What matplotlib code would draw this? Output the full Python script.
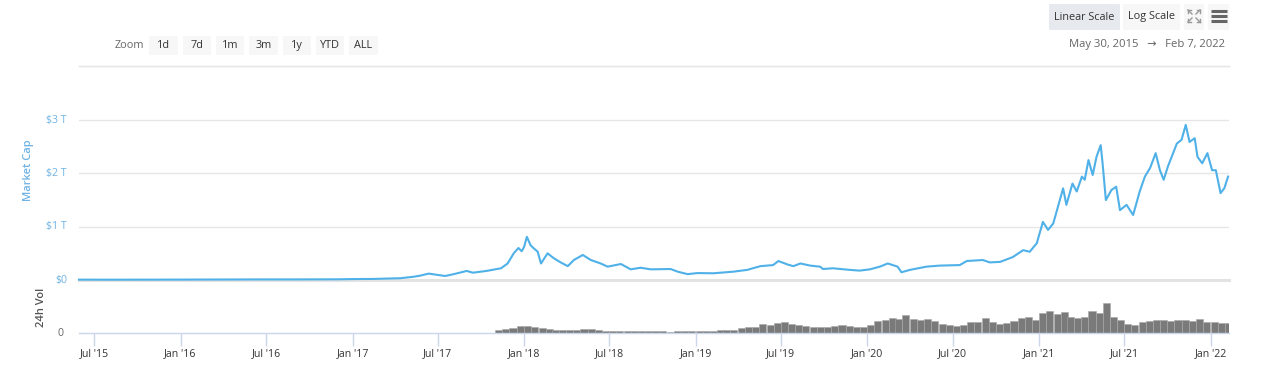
import matplotlib
matplotlib.use("Agg")
import matplotlib.pyplot as plt
import matplotlib.transforms as mtransforms
import pandas as pd
from matplotlib.patches import FancyBboxPatch
from matplotlib.lines import Line2D

# ---------------- data ----------------
cap_dates = [
    "2015-05-30", "2015-08-01", "2015-11-01", "2016-01-01", "2016-03-01", "2016-06-15",
    "2016-09-01", "2016-12-01", "2017-01-05", "2017-02-15", "2017-03-15", "2017-04-12",
    "2017-05-10", "2017-05-24", "2017-06-12", "2017-07-17", "2017-08-03", "2017-09-01",
    "2017-09-14", "2017-10-13", "2017-11-13", "2017-11-27", "2017-12-10", "2017-12-20",
    "2017-12-27", "2018-01-01", "2018-01-07", "2018-01-15", "2018-01-21", "2018-01-30",
    "2018-02-06", "2018-02-20", "2018-03-05", "2018-03-20", "2018-04-04", "2018-04-17",
    "2018-05-06", "2018-05-23", "2018-06-13", "2018-06-28", "2018-07-26", "2018-08-16",
    "2018-09-06", "2018-09-28", "2018-11-09", "2018-11-24", "2018-12-15", "2019-01-05",
    "2019-02-08", "2019-03-22", "2019-04-21", "2019-05-19", "2019-06-15", "2019-06-26",
    "2019-07-16", "2019-07-28", "2019-08-12", "2019-09-02", "2019-09-23", "2019-09-29",
    "2019-10-20", "2019-11-25", "2019-12-16", "2020-01-07", "2020-01-28", "2020-02-14",
    "2020-03-06", "2020-03-14", "2020-04-01", "2020-05-06", "2020-06-03", "2020-07-16",
    "2020-07-31", "2020-09-03", "2020-09-18", "2020-10-10", "2020-11-06", "2020-11-28",
    "2020-12-12", "2020-12-27", "2021-01-09", "2021-01-20", "2021-01-31", "2021-02-15",
    "2021-02-21", "2021-02-28", "2021-03-13", "2021-03-22", "2021-04-02", "2021-04-08",
    "2021-04-16", "2021-04-25", "2021-05-03", "2021-05-12", "2021-05-16", "2021-05-23",
    "2021-06-04", "2021-06-14", "2021-06-22", "2021-07-06", "2021-07-20", "2021-08-03",
    "2021-08-14", "2021-08-25", "2021-09-06", "2021-09-15", "2021-09-23", "2021-10-02",
    "2021-10-10", "2021-10-21", "2021-10-31", "2021-11-09", "2021-11-17", "2021-11-28",
    "2021-12-04", "2021-12-14", "2021-12-25", "2022-01-04", "2022-01-12", "2022-01-22",
    "2022-01-30", "2022-02-07",
]
cap_values_t = [
    0.0065, 0.0055, 0.0065, 0.0075, 0.0085, 0.011,
    0.011, 0.013, 0.018, 0.020, 0.027, 0.033,
    0.060, 0.080, 0.120, 0.075, 0.107, 0.170,
    0.137, 0.170, 0.220, 0.310, 0.500, 0.600,
    0.540, 0.620, 0.810, 0.650, 0.600, 0.530,
    0.310, 0.500, 0.410, 0.330, 0.260, 0.375,
    0.470, 0.375, 0.310, 0.250, 0.300, 0.200,
    0.230, 0.200, 0.206, 0.156, 0.110, 0.130,
    0.126, 0.156, 0.190, 0.260, 0.280, 0.356,
    0.290, 0.260, 0.310, 0.270, 0.250, 0.206,
    0.220, 0.190, 0.176, 0.200, 0.250, 0.310,
    0.250, 0.145, 0.190, 0.250, 0.270, 0.280,
    0.356, 0.375, 0.330, 0.340, 0.430, 0.560,
    0.530, 0.690, 1.090, 0.940, 1.060, 1.530,
    1.720, 1.410, 1.810, 1.660, 1.940, 1.880,
    2.250, 1.970, 2.310, 2.530, 2.190, 1.500,
    1.690, 1.750, 1.310, 1.410, 1.220, 1.660,
    1.940, 2.100, 2.380, 2.060, 1.880, 2.130,
    2.310, 2.560, 2.630, 2.910, 2.590, 2.660,
    2.310, 2.190, 2.380, 2.060, 2.060, 1.630,
    1.720, 1.940,
]

vol_dates = [
    "2017-11-01", "2017-11-16", "2017-12-01", "2017-12-16",
    "2018-01-01", "2018-01-16", "2018-02-01", "2018-02-16", "2018-03-01", "2018-03-16",
    "2018-04-01", "2018-04-16", "2018-05-01", "2018-05-16", "2018-06-01", "2018-06-16",
    "2018-07-01", "2018-07-16", "2018-08-01", "2018-08-16", "2018-09-01", "2018-09-16",
    "2018-10-01", "2018-10-16", "2018-11-01", "2018-11-16", "2018-12-01", "2018-12-16",
    "2019-01-01", "2019-01-16", "2019-02-01", "2019-02-16", "2019-03-01", "2019-03-16",
    "2019-04-01", "2019-04-16", "2019-05-01", "2019-05-16", "2019-06-01", "2019-06-16",
    "2019-07-01", "2019-07-16", "2019-08-01", "2019-08-16", "2019-09-01", "2019-09-16",
    "2019-10-01", "2019-10-16", "2019-11-01", "2019-11-16", "2019-12-01", "2019-12-16",
    "2020-01-01", "2020-01-16", "2020-02-01", "2020-02-16", "2020-03-01", "2020-03-16",
    "2020-04-01", "2020-04-16", "2020-05-01", "2020-05-16", "2020-06-01", "2020-06-16",
    "2020-07-01", "2020-07-16", "2020-08-01", "2020-08-16", "2020-09-01", "2020-09-16",
    "2020-10-01", "2020-10-16", "2020-11-01", "2020-11-16", "2020-12-01", "2020-12-16",
    "2021-01-01", "2021-01-16", "2021-02-01", "2021-02-16", "2021-03-01", "2021-03-16",
    "2021-04-01", "2021-04-16", "2021-05-01", "2021-05-16", "2021-06-01", "2021-06-16",
    "2021-07-01", "2021-07-16", "2021-08-01", "2021-08-16", "2021-09-01", "2021-09-16",
    "2021-10-01", "2021-10-16", "2021-11-01", "2021-11-16", "2021-12-01", "2021-12-16",
    "2022-01-01", "2022-01-16", "2022-02-01",
]
vol_values_b = [
    30, 40, 50, 70,
    70, 60, 50, 40, 30, 30,
    30, 30, 40, 40, 30, 20,
    20, 20, 20, 20, 20, 20,
    20, 20, 10, 20, 20, 20,
    20, 20, 20, 30, 30, 30,
    50, 60, 60, 90, 80, 100,
    110, 90, 80, 70, 60, 60,
    60, 70, 80, 70, 60, 60,
    80, 120, 130, 150, 140, 180,
    140, 130, 140, 120, 90, 80,
    70, 80, 110, 110, 150, 110,
    90, 100, 120, 150, 160, 130,
    200, 220, 190, 210, 160, 150,
    160, 220, 200, 300, 160, 130,
    90, 80, 110, 120, 130, 130,
    120, 130, 130, 120, 140, 110,
    110, 100, 100,
]

tick_dates = ["2015-07-01", "2016-01-01", "2016-07-01", "2017-01-01", "2017-07-01",
              "2018-01-01", "2018-07-01", "2019-01-01", "2019-07-01", "2020-01-01",
              "2020-07-01", "2021-01-01", "2021-07-01", "2022-01-01"]
tick_labels = ["Jul '15", "Jan '16", "Jul '16", "Jan '17", "Jul '17", "Jan '18", "Jul '18",
               "Jan '19", "Jul '19", "Jan '20", "Jul '20", "Jan '21", "Jul '21", "Jan '22"]
ytick_values = [0, 1, 2, 3]
ytick_labels = ["$0", "$1 T", "$2 T", "$3 T"]
zoom_buttons = ["1d", "7d", "1m", "3m", "1y", "YTD", "ALL"]
range_text = "May 30, 2015   \u2192   Feb 7, 2022"

# ---------------- figure ----------------
W, H = 1271, 371
fig = plt.figure(figsize=(W / 100, H / 100), dpi=100)
plt.rcParams['font.family'] = ['Open Sans', 'DejaVu Sans']

def fx(px):
    return px / W

def fy(py):
    return 1 - py / H

LINE = "#4fb1e8"
LABEL_BLUE = "#6fb3e4"
GRID = "#e6e6e6"
AXIS = "#ccd6eb"

x0, x1 = 79, 1229
ax = fig.add_axes([fx(x0), fy(280), fx(x1) - fx(x0), fy(66) - fy(280)])
axv = fig.add_axes([fx(x0), fy(333), fx(x1) - fx(x0), fy(282) - fy(333)], sharex=ax)

cd = pd.to_datetime(cap_dates)
vd = pd.to_datetime(vol_dates)
xmin, xmax = pd.Timestamp("2015-05-30"), pd.Timestamp("2022-02-09")

# main pane
ymax = (280 - 66) / 53.3
ax.set_ylim(0, ymax)
ax.set_xlim(xmin, xmax)
for v in ytick_values[1:]:
    ax.axhline(v, color=GRID, lw=1, zorder=0)
ax.axhline(ymax, color=GRID, lw=1, zorder=0, clip_on=False)
ax.axhline(0, color="#e3e3e3", lw=2.2, zorder=0, clip_on=False)
ax.plot(cd, cap_values_t, color=LINE, lw=1.5, clip_on=False, zorder=3)
for s in ax.spines.values():
    s.set_visible(False)
ax.set_yticks([])
ax.tick_params(axis='x', which='both', bottom=False, labelbottom=False)
ax.set_facecolor("none")

ytr = mtransforms.blended_transform_factory(fig.transFigure, ax.transData)
for v, lab in zip(ytick_values, ytick_labels):
    ax.text(fx(67), v, lab, transform=ytr, ha='right', va='center', fontsize=7.6,
            color=LABEL_BLUE)
fig.text(fx(29), fy(170), "Market Cap", rotation=90, ha='center', va='center',
         fontsize=8, color=LABEL_BLUE, fontweight='semibold')

# volume pane
axv.bar(vd, vol_values_b, width=15, color="#7a7a7a", edgecolor="#a8a8a8", lw=0.4,
        align='edge')
axv.set_ylim(0, 510)
for s in ["top", "left", "right"]:
    axv.spines[s].set_visible(False)
axv.spines["bottom"].set_color(AXIS)
axv.spines["bottom"].set_linewidth(1)
axv.set_yticks([])
axv.set_xticks(pd.to_datetime(tick_dates))
axv.set_xticklabels(tick_labels)
axv.tick_params(axis='x', length=9, width=1, color=AXIS, labelsize=7.6,
                labelcolor="#333333", pad=2)
axv.set_facecolor("none")
fig.text(fx(64), fy(333), "0", ha='right', va='center', fontsize=7.6, color="#666666")
fig.text(fx(42), fy(307), "24h Vol", rotation=90, ha='center', va='center',
         fontsize=8, color="#555555", fontweight='semibold')

# ---------------- top UI ----------------
fig.add_artist(Line2D([fx(x0), fx(x1)], [fy(66), fy(66)], color=GRID, lw=1))

def button(xl, xr, yt, yb, text, bg, tcolor="#333333", fs=7.8):
    p = FancyBboxPatch((fx(xl), fy(yb)), fx(xr) - fx(xl), fy(yt) - fy(yb),
                       boxstyle="round,pad=0,rounding_size=0.002", transform=fig.transFigure,
                       facecolor=bg, edgecolor="none")
    fig.add_artist(p)
    fig.text((fx(xl) + fx(xr)) / 2, (fy(yt) + fy(yb)) / 2, text, ha='center', va='center',
             fontsize=fs, color=tcolor)

fig.text(fx(115), fy(45), "Zoom", ha='left', va='center', fontsize=7.8, color="#666666")
bx = [(149, 178), (183, 211), (216, 244), (249, 278), (283, 311), (316, 344), (349, 378)]
for (xl, xr), lab in zip(bx, zoom_buttons):
    button(xl, xr, 36, 55, lab, "#f7f7f7")

button(1049, 1120, 4, 30, "Linear Scale", "#e6e9ee")
button(1123, 1180, 4, 30, "Log Scale", "#f7f7f7")
button(1184, 1204, 4, 30, "", "#f7f7f7")
button(1208, 1229, 4, 30, "", "#f7f7f7")

# hamburger icon
for yy in (10.5, 15.5, 20.5):
    fig.add_artist(Line2D([fx(1211), fx(1227)], [fy(yy), fy(yy)], color="#666666", lw=2.2,
                          solid_capstyle='butt'))
# fullscreen icon (four corner arrows)
cx, cy = 1194, 16
for sx, sy in ((-1, -1), (1, -1), (-1, 1), (1, 1)):
    xa, ya = cx + sx * 2, cy + sy * 2
    xb, yb = cx + sx * 6, cy + sy * 6
    fig.add_artist(Line2D([fx(xa), fx(xb)], [fy(ya), fy(yb)], color="#999999", lw=1))
    fig.add_artist(Line2D([fx(xb), fx(xb - sx * 3)], [fy(yb), fy(yb)], color="#999999", lw=1))
    fig.add_artist(Line2D([fx(xb), fx(xb)], [fy(yb), fy(yb - sy * 3)], color="#999999", lw=1))

fig.text(fx(1225), fy(45), range_text, ha='right', va='center', fontsize=8.1, color="#666666")

fig.savefig("out.png", dpi=100)
